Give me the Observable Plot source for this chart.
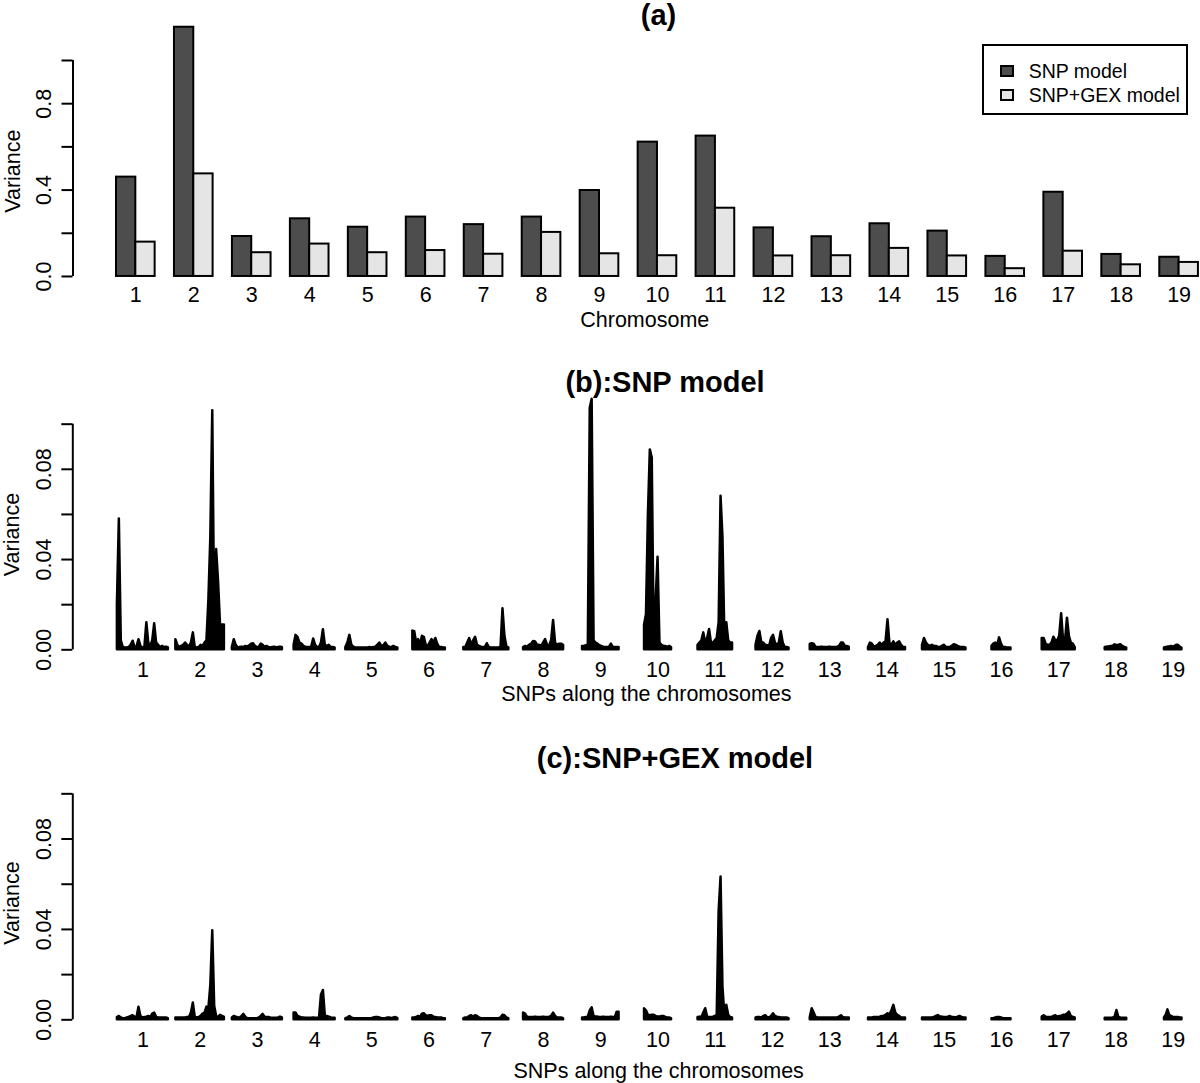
<!DOCTYPE html>
<html>
<head>
<meta charset="utf-8">
<script src="https://cdn.jsdelivr.net/npm/d3@7"></script>
<script src="https://cdn.jsdelivr.net/npm/@observablehq/plot@0.6"></script>
<style>
  body { margin: 0; background: #fff; }
  #fig { position: relative; width: 1200px; height: 1083px; overflow: hidden; background: #fff;
         font-family: "Liberation Sans", Arial, Helvetica, sans-serif; color: #000; }
  .panel { position: absolute; left: 0; }
  .title { position: absolute; font-weight: bold; font-size: 29px; line-height: 29px; white-space: nowrap;
           transform: translateX(-50%); }
  #legend { position: absolute; border: 2px solid #000; box-sizing: border-box; background: #fff; overflow: visible; }
  .lg-row { position: absolute; left: 0; display: flex; align-items: center; font-size: 19.5px; line-height: 20px; white-space: nowrap; }
  .lg-sw { width: 14px; height: 12px; border: 2px solid #000; box-sizing: border-box; margin-left: 16px; margin-right: 15px; }
</style>
</head>
<body>
<div id="fig"></div>
<script>
// ---------------- data ----------------
const chromosomes = ["1","2","3","4","5","6","7","8","9","10","11","12","13","14","15","16","17","18","19"];
const modelNames = ["SNP model", "SNP+GEX model"];
const modelColors = ["#4d4d4d", "#e5e5e5"];

// (a) total variance explained per chromosome
const chrVarianceSNP = [0.46, 1.154, 0.185, 0.267, 0.228, 0.275, 0.24, 0.275, 0.398, 0.622, 0.65, 0.225, 0.184, 0.244, 0.21, 0.093, 0.39, 0.102, 0.089];
const chrVarianceGEX = [0.159, 0.475, 0.11, 0.15, 0.11, 0.12, 0.103, 0.204, 0.105, 0.096, 0.316, 0.095, 0.096, 0.13, 0.095, 0.036, 0.117, 0.054, 0.065];

const yTicksA = [0, 0.2, 0.4, 0.6, 0.8, 1.0];
const yTickLabelsA = [0, 0.4, 0.8];
const yTicksSNP = [0, 0.02, 0.04, 0.06, 0.08, 0.10];
const yTickLabelsSNP = [0, 0.04, 0.08];

// approximate number of SNPs per chromosome (width of each chromosome block)
const snpCount = [510, 485, 500, 410, 520, 325, 450, 400, 365, 270, 345, 330, 390, 370, 435, 190, 330, 215, 175];
const snpsPerSlot = 572;

// (b) per-SNP variance, SNP model (downsampled profile along each chromosome)
const snpModelProfiles = [
  [0.02,0.058,0.004,0.001,0.0008,0.0008,0.001,0.002,0.0038,0.001,0.0012,0.0045,0.0015,0.0008,0.001,0.012,0.003,0.0015,0.004,0.0115,0.003,0.002,0.001,0.0015,0.001,0.0012,0.0008],
  [0.0045,0.002,0.001,0.0015,0.002,0.003,0.002,0.0012,0.003,0.0075,0.001,0.0008,0.001,0.002,0.0015,0.003,0.004,0.022,0.05,0.106,0.012,0.0444,0.03,0.011,0.011,0.011],
  [0.001,0.0045,0.002,0.0008,0.001,0.0012,0.001,0.0015,0.0012,0.0018,0.0025,0.0027,0.0015,0.001,0.0012,0.0025,0.002,0.0012,0.0015,0.001,0.0008,0.001,0.0012,0.0008,0.001,0.0012,0.001],
  [0.002,0.0064,0.0055,0.003,0.0025,0.0015,0.0012,0.001,0.001,0.0012,0.0048,0.002,0.001,0.001,0.003,0.0089,0.002,0.0015,0.002,0.001,0.001,0.0008],
  [0.001,0.003,0.0064,0.002,0.0012,0.0008,0.0008,0.0008,0.0008,0.0008,0.0008,0.0008,0.001,0.0008,0.001,0.0012,0.002,0.003,0.0015,0.0018,0.003,0.0015,0.0012,0.001,0.0015,0.001,0.0008],
  [0.0083,0.008,0.003,0.0045,0.002,0.006,0.0055,0.002,0.0015,0.003,0.0045,0.003,0.005,0.0025,0.001,0.001,0.0008,0.0008],
  [0.001,0.001,0.003,0.005,0.002,0.004,0.0055,0.002,0.0015,0.0012,0.001,0.001,0.0027,0.001,0.0008,0.0008,0.0008,0.0008,0.0008,0.001,0.0182,0.006,0.0012,0.0008],
  [0.001,0.0015,0.0012,0.002,0.0025,0.0037,0.0035,0.002,0.002,0.0015,0.003,0.0045,0.002,0.0015,0.004,0.013,0.003,0.002,0.0025,0.0025,0.002],
  [0.0015,0.0015,0.0018,0.002,0.107,0.111,0.004,0.003,0.0025,0.0018,0.0015,0.0012,0.001,0.001,0.0012,0.0025,0.001,0.001,0.001,0.001],
  [0.011,0.0155,0.06,0.0886,0.085,0.004,0.0222,0.041,0.003,0.002,0.0015,0.0015,0.001,0.0015,0.001],
  [0.002,0.003,0.004,0.0075,0.003,0.005,0.009,0.003,0.003,0.004,0.005,0.012,0.068,0.05,0.006,0.012,0.004,0.003,0.003],
  [0.002,0.006,0.0081,0.003,0.003,0.002,0.0018,0.0015,0.005,0.0064,0.003,0.002,0.003,0.008,0.003,0.001,0.001,0.0008],
  [0.0025,0.0027,0.0025,0.001,0.001,0.001,0.0012,0.001,0.001,0.001,0.0012,0.001,0.001,0.001,0.0012,0.0015,0.003,0.003,0.0015,0.0015,0.0012],
  [0.001,0.003,0.0025,0.0012,0.0015,0.002,0.003,0.002,0.003,0.0035,0.0133,0.003,0.002,0.0035,0.002,0.003,0.0035,0.002,0.001,0.001],
  [0.002,0.005,0.003,0.002,0.0015,0.002,0.0015,0.0015,0.0012,0.001,0.0015,0.002,0.0012,0.001,0.001,0.0015,0.0022,0.002,0.0015,0.0012,0.001,0.001,0.0008],
  [0.0015,0.0025,0.003,0.002,0.0053,0.0025,0.001,0.001,0.0008,0.0008,0.0008],
  [0.005,0.005,0.0025,0.002,0.002,0.003,0.0056,0.004,0.004,0.006,0.016,0.004,0.004,0.014,0.006,0.003,0.0025,0.001],
  [0.001,0.0012,0.0012,0.0015,0.0015,0.0022,0.0018,0.002,0.0022,0.0015,0.001,0.0008],
  [0.0008,0.001,0.0012,0.0012,0.0015,0.0012,0.0015,0.002,0.002,0.0012,0.0008]
];

// (c) per-SNP variance, SNP+GEX model
const snpGexModelProfiles = [
  [0.001,0.0015,0.0008,0.0005,0.0005,0.0008,0.001,0.0015,0.0018,0.0012,0.001,0.0056,0.0015,0.0008,0.001,0.0012,0.0015,0.001,0.0025,0.003,0.001,0.0008,0.0008,0.0008,0.0008,0.0008,0.0005],
  [0.0008,0.0008,0.0008,0.0008,0.0008,0.0008,0.001,0.001,0.003,0.0074,0.001,0.0008,0.001,0.0015,0.0025,0.003,0.0056,0.005,0.0153,0.0394,0.006,0.0015,0.0012,0.002,0.0015,0.0012],
  [0.0008,0.0015,0.0012,0.0008,0.0008,0.0015,0.0024,0.0012,0.0005,0.0005,0.0005,0.0005,0.0005,0.0005,0.0008,0.0015,0.0024,0.0012,0.001,0.001,0.0008,0.0007,0.0007,0.0007,0.0008,0.0012,0.0008],
  [0.003,0.003,0.0015,0.0012,0.0008,0.0008,0.0007,0.0007,0.0007,0.0007,0.0008,0.0007,0.0007,0.0008,0.011,0.013,0.0015,0.0015,0.0012,0.0008,0.0007,0.0007],
  [0.0005,0.0008,0.0015,0.0008,0.0005,0.0005,0.0005,0.0005,0.0005,0.0005,0.0005,0.0005,0.0005,0.0005,0.0008,0.001,0.001,0.0008,0.0005,0.0005,0.0005,0.0008,0.0008,0.0005,0.0008,0.001,0.0005],
  [0.0008,0.0008,0.001,0.0015,0.001,0.0025,0.0027,0.0018,0.0015,0.0018,0.0018,0.0012,0.001,0.0008,0.0008,0.0008,0.0005,0.0005],
  [0.0005,0.0008,0.0008,0.0015,0.0018,0.0012,0.0018,0.0015,0.0008,0.0005,0.0005,0.0005,0.0005,0.0005,0.0005,0.0005,0.0005,0.0005,0.0005,0.0008,0.002,0.0018,0.0008,0.0005],
  [0.003,0.0025,0.0012,0.001,0.001,0.001,0.0012,0.001,0.001,0.001,0.0012,0.001,0.001,0.0012,0.0015,0.003,0.0015,0.0008,0.0008,0.0008,0.0005],
  [0.0008,0.0008,0.001,0.0012,0.004,0.0053,0.0015,0.0012,0.0012,0.001,0.001,0.0012,0.001,0.001,0.001,0.0012,0.001,0.001,0.0034,0.0034],
  [0.0049,0.004,0.002,0.0018,0.002,0.002,0.0015,0.0012,0.0012,0.0015,0.0015,0.001,0.0008,0.0008,0.0005],
  [0.001,0.0012,0.001,0.003,0.0049,0.0012,0.001,0.001,0.0012,0.0015,0.002,0.048,0.0632,0.0145,0.002,0.0064,0.002,0.001,0.0008],
  [0.0008,0.001,0.001,0.0008,0.0015,0.0018,0.001,0.0008,0.0015,0.0027,0.0015,0.0012,0.001,0.0008,0.0008,0.0008,0.0008,0.0005],
  [0.001,0.0049,0.003,0.001,0.0008,0.0008,0.0008,0.0008,0.0008,0.0008,0.0008,0.0008,0.0008,0.0008,0.0008,0.0012,0.0018,0.001,0.0008,0.0008,0.0008],
  [0.0008,0.0008,0.0008,0.001,0.001,0.001,0.0012,0.0015,0.0015,0.002,0.0027,0.002,0.004,0.0064,0.003,0.002,0.0015,0.0008,0.0008,0.0008],
  [0.0008,0.0008,0.0008,0.0008,0.0008,0.0008,0.001,0.0015,0.0019,0.0012,0.0012,0.001,0.001,0.0012,0.0015,0.001,0.001,0.0008,0.0012,0.0015,0.001,0.0008,0.0008],
  [0.0005,0.0005,0.0008,0.001,0.001,0.0008,0.0005,0.0005,0.0005,0.0005,0.0005],
  [0.0012,0.0018,0.0012,0.001,0.001,0.001,0.0015,0.0018,0.0012,0.0015,0.0015,0.002,0.002,0.0025,0.0034,0.0015,0.001,0.0008],
  [0.0007,0.0007,0.0007,0.0007,0.0008,0.001,0.0041,0.001,0.0008,0.0007,0.0007,0.0007],
  [0.0008,0.002,0.0044,0.002,0.0015,0.0012,0.001,0.001,0.001,0.0008,0.0008]
];

// ---------------- layout / rendering ----------------
const FONT = "'Liberation Sans', Arial, Helvetica, sans-serif";
const fig = document.getElementById("fig");
const W = 1200;

function place(el, top) { el.classList.add("panel"); el.style.top = top + "px"; fig.appendChild(el); }
function addTitle(text, cx, top) {
  const d = document.createElement("div");
  d.className = "title"; d.textContent = text;
  d.style.left = cx + "px"; d.style.top = top + "px";
  fig.appendChild(d);
}

// ---- panel (a): grouped bars (R barplot units: 2 bars + 1 space per group)
const barsA = [];
chromosomes.forEach((c, i) => {
  barsA.push({chr: c, model: modelNames[0], x1: 3 * i + 1, x2: 3 * i + 2, v: chrVarianceSNP[i]});
  barsA.push({chr: c, model: modelNames[1], x1: 3 * i + 2, x2: 3 * i + 3, v: chrVarianceGEX[i]});
});
const groupCenters = chromosomes.map((c, i) => 3 * i + 2);
const xDomA = [-1.2516, 57.107];

const plotA = Plot.plot({
  width: W, height: 361,
  marginLeft: 72.5, marginRight: 0, marginTop: 16.8, marginBottom: 75.1,
  style: {fontFamily: FONT, fontSize: "21.5px", background: "none", overflow: "visible", color: "#000"},
  x: {type: "linear", domain: xDomA},
  y: {domain: [-0.046, 1.2]},
  color: {domain: modelNames, range: modelColors},
  marks: [
    Plot.rect(barsA, {x1: "x1", x2: "x2", y1: 0, y2: "v", fill: "model", stroke: "#000", strokeWidth: 2}),
    Plot.ruleX([xDomA[0]], {y1: yTicksA[0], y2: yTicksA[yTicksA.length - 1], stroke: "#000", strokeWidth: 2}),
    Plot.axisY({ticks: yTicksA, tickSize: 11, tickPadding: 18, tickRotate: -90, textAnchor: "middle", lineAnchor: "middle",
      tickFormat: d => yTickLabelsA.includes(d) ? d.toFixed(1) : "", fontSize: 21.5, strokeWidth: 2, label: null}),
    Plot.axisX({ticks: groupCenters, tickSize: 0, tickPadding: 0, fontSize: 21.5, label: null,
      tickFormat: d => chromosomes[Math.round((d - 2) / 3)]}),
    Plot.text(["Chromosome"], {frameAnchor: "bottom", textAnchor: "middle", lineAnchor: "bottom", dx: 8, dy: 41, fontSize: 21.5}),
    Plot.text(["Variance"], {frameAnchor: "left", textAnchor: "middle", rotate: -90, dx: -60.2, dy: 19.3, fontSize: 21.5})
  ]
});
place(plotA, 0);

// ---- panels (b), (c): per-SNP profiles, one slot per chromosome
function profileRows(profiles) {
  const rows = [];
  profiles.forEach((vals, i) => {
    const span = snpCount[i] / snpsPerSlot;
    const m = vals.length;
    vals.forEach((v, j) => rows.push({chr: chromosomes[i], u: (i + 1) + (j / (m - 1) - 0.5) * span, v}));
  });
  return rows;
}
const xDomSNP = [-0.2247, 19.477];

function snpPanel(profiles, {marginTop, marginBottom, yDom, labelDx, labelDy, varDy}) {
  return Plot.plot({
    width: W, height: 361,
    marginLeft: 72.3, marginRight: 0, marginTop, marginBottom,
    style: {fontFamily: FONT, fontSize: "21.5px", background: "none", overflow: "visible", color: "#000"},
    x: {type: "linear", domain: xDomSNP},
    y: {domain: yDom},
    marks: [
      Plot.areaY(profileRows(profiles), {x: "u", y1: 0, y2: "v", z: "chr", fill: "#000", stroke: "#000", strokeWidth: 2.5, strokeLinejoin: "round"}),
      Plot.ruleX([xDomSNP[0]], {y1: yTicksSNP[0], y2: yTicksSNP[yTicksSNP.length - 1], stroke: "#000", strokeWidth: 2}),
      Plot.axisY({ticks: yTicksSNP, tickSize: 11, tickPadding: 18, tickRotate: -90, textAnchor: "middle", lineAnchor: "middle",
        tickFormat: d => yTickLabelsSNP.includes(d) ? d.toFixed(2) : "", fontSize: 21.5, strokeWidth: 2, label: null}),
      Plot.axisX({ticks: chromosomes.map((c, i) => i + 1), tickSize: 0, tickPadding: 1.5, fontSize: 21.5, label: null,
        tickFormat: d => chromosomes[Math.round(d) - 1]}),
      Plot.text(["SNPs along the chromosomes"], {frameAnchor: "bottom", textAnchor: "middle", lineAnchor: "bottom", dx: labelDx, dy: labelDy, fontSize: 21.5}),
      Plot.text(["Variance"], {frameAnchor: "left", textAnchor: "middle", rotate: -90, dx: -60.2, dy: varDy, fontSize: 21.5})
    ]
  });
}

const plotB = snpPanel(snpModelProfiles, {marginTop: 28.6, marginBottom: 62.7, yDom: [-0.00443, 0.1151], labelDx: 9.7, labelDy: 41.4, varDy: 9.6});
place(plotB, 361);
const plotC = snpPanel(snpGexModelProfiles, {marginTop: 37.2, marginBottom: 53.7, yDom: [-0.00442, 0.1151], labelDx: 22, labelDy: 47.7, varDy: 8.3});
place(plotC, 722);

// titles
addTitle("(a)", 658.5, 1);
addTitle("(b):SNP model", 665, 368);
addTitle("(c):SNP+GEX model", 675, 744);

// legend for panel (a)
const lg = document.createElement("div");
lg.id = "legend";
Object.assign(lg.style, {left: "981.7px", top: "44.3px", width: "206px", height: "71px"});
const rowTops = [14.7, 38.4];
modelNames.forEach((name, i) => {
  const r = document.createElement("div");
  r.className = "lg-row";
  r.style.top = rowTops[i] + "px";
  const sw = document.createElement("div");
  sw.className = "lg-sw";
  sw.style.background = modelColors[i];
  const t = document.createElement("span");
  t.textContent = name;
  r.appendChild(sw); r.appendChild(t);
  lg.appendChild(r);
});
fig.appendChild(lg);
</script>
</body>
</html>
